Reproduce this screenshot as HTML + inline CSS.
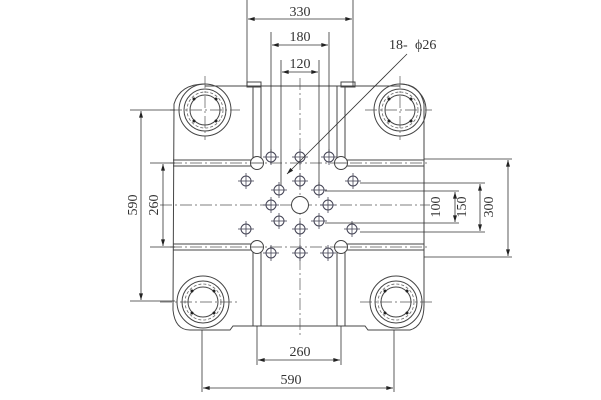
<!DOCTYPE html>
<html><head><meta charset="utf-8"><style>
html,body{margin:0;padding:0;background:#fff;width:601px;height:400px;overflow:hidden}
svg text{font-family:"Liberation Serif",serif;font-size:14px;fill:#333}
</style></head><body>
<svg width="601" height="400" viewBox="0 0 601 400" xmlns="http://www.w3.org/2000/svg">
<defs>
<marker id="a" viewBox="0 0 10 6" refX="10" refY="3" markerWidth="9" markerHeight="5" orient="auto-start-reverse"><path d="M0,0 L10,3 L0,6 z" fill="#222"/></marker>
<g id="boss">
<circle r="26" fill="none" stroke="#444" stroke-width="1"/>
<circle r="21" fill="none" stroke="#444" stroke-width="1"/>
<circle r="18" fill="none" stroke="#666" stroke-width="0.8" stroke-dasharray="3,2"/>
<circle r="15" fill="none" stroke="#444" stroke-width="1"/>
<circle cx="-11" cy="-11" r="1.5" fill="#222"/><circle cx="11" cy="-11" r="1.5" fill="#222"/>
<circle cx="-11" cy="11" r="1.5" fill="#222"/><circle cx="11" cy="11" r="1.5" fill="#222"/>
</g>
<g id="h"><circle r="5" fill="none" stroke="#445" stroke-width="1"/><line x1="-8" y1="0" x2="8" y2="0" stroke="#445" stroke-width="0.8"/><line x1="0" y1="-8" x2="0" y2="8" stroke="#445" stroke-width="0.8"/></g>
<g id="H"><circle r="6.5" fill="#fff" stroke="#444" stroke-width="1"/><line x1="-6" y1="0" x2="6" y2="0" stroke="#444" stroke-width="0.8"/></g>
</defs>
<g stroke="#444" stroke-width="1" fill="none">
<!-- plate outline -->
<path d="M205,84 Q180,84 174,104 L173,310 Q175,330 190,330 L230,330 L233,326 L365,326 L368,330 L410,330 Q424,326 424,305 L424,104 Q420,84 400,84"/>
<line x1="205" y1="86" x2="400" y2="86"/>
<!-- top tabs -->
<rect x="247" y="82" width="14" height="5"/><rect x="341" y="82" width="14" height="5"/>
<!-- vertical slots -->
<line x1="253" y1="86" x2="253" y2="160"/><line x1="261" y1="86" x2="261" y2="158"/>
<line x1="337" y1="86" x2="337" y2="158"/><line x1="345" y1="86" x2="345" y2="160"/>
<line x1="253" y1="250" x2="253" y2="326"/><line x1="261" y1="252" x2="261" y2="326"/>
<line x1="337" y1="252" x2="337" y2="326"/><line x1="345" y1="250" x2="345" y2="326"/>
<!-- horizontal slots -->
<line x1="173" y1="160" x2="252" y2="160"/><line x1="173" y1="166" x2="251" y2="166"/>
<line x1="347" y1="160" x2="424" y2="160"/><line x1="347" y1="166" x2="424" y2="166"/>
<line x1="173" y1="244" x2="251" y2="244"/><line x1="173" y1="250" x2="252" y2="250"/>
<line x1="347" y1="244" x2="424" y2="244"/><line x1="347" y1="250" x2="424" y2="250"/>
</g>
<use href="#boss" x="205" y="110"/><use href="#boss" x="400" y="110"/>
<use href="#boss" x="203" y="302"/><use href="#boss" x="396" y="302"/>
<!-- center lines -->
<g stroke="#555" stroke-width="0.7" stroke-dasharray="12,3,2,3" fill="none">
<line x1="300" y1="78" x2="300" y2="335"/>
<line x1="160" y1="205" x2="430" y2="205"/>
<line x1="170" y1="163" x2="430" y2="163"/><line x1="170" y1="247" x2="430" y2="247"/>
<line x1="205" y1="76" x2="205" y2="140"/><line x1="170" y1="110" x2="240" y2="110"/>
<line x1="400" y1="76" x2="400" y2="140"/><line x1="365" y1="110" x2="432" y2="110"/>
<line x1="160" y1="302" x2="238" y2="302"/><line x1="360" y1="302" x2="432" y2="302"/>
</g>
<circle cx="300" cy="205" r="8.5" fill="#fff" stroke="#444" stroke-width="1"/>
<use href="#H" x="257" y="163"/><use href="#H" x="341" y="163"/><use href="#H" x="257" y="247"/><use href="#H" x="341" y="247"/>
<use href="#h" x="271" y="157"/><use href="#h" x="300" y="157"/><use href="#h" x="329" y="157"/>
<use href="#h" x="246" y="181"/><use href="#h" x="353" y="181"/><use href="#h" x="300" y="181"/>
<use href="#h" x="279" y="190"/><use href="#h" x="319" y="190"/>
<use href="#h" x="271" y="205"/><use href="#h" x="328" y="205"/>
<use href="#h" x="279" y="221"/><use href="#h" x="319" y="221"/><use href="#h" x="300" y="229"/>
<use href="#h" x="246" y="229"/><use href="#h" x="352" y="229"/>
<use href="#h" x="271" y="253"/><use href="#h" x="300" y="253"/><use href="#h" x="328" y="253"/>
<!-- dimension lines -->
<g stroke="#333" stroke-width="0.8" fill="none">
<line x1="247" y1="0" x2="247" y2="86"/><line x1="353" y1="0" x2="353" y2="86"/>
<line x1="248" y1="19" x2="352" y2="19" marker-start="url(#a)" marker-end="url(#a)"/>
<line x1="271" y1="32" x2="271" y2="152"/><line x1="329" y1="32" x2="329" y2="152"/>
<line x1="272" y1="45" x2="328" y2="45" marker-start="url(#a)" marker-end="url(#a)"/>
<line x1="281" y1="60" x2="281" y2="185"/><line x1="319" y1="60" x2="319" y2="185"/>
<line x1="282" y1="72" x2="318" y2="72" marker-start="url(#a)" marker-end="url(#a)"/>
<line x1="407" y1="54" x2="287" y2="174" marker-end="url(#a)"/>
<!-- left -->
<line x1="130" y1="110" x2="175" y2="110"/><line x1="130" y1="301" x2="175" y2="301"/>
<line x1="141" y1="111" x2="141" y2="300" marker-start="url(#a)" marker-end="url(#a)"/>
<line x1="150" y1="163" x2="175" y2="163"/><line x1="150" y1="247" x2="175" y2="247"/>
<line x1="163" y1="164" x2="163" y2="246" marker-start="url(#a)" marker-end="url(#a)"/>
<!-- right -->
<line x1="424" y1="159" x2="512" y2="159"/><line x1="424" y1="257" x2="512" y2="257"/>
<line x1="508" y1="160" x2="508" y2="256" marker-start="url(#a)" marker-end="url(#a)"/>
<line x1="360" y1="183" x2="485" y2="183"/><line x1="360" y1="232" x2="485" y2="232"/>
<line x1="480" y1="184" x2="480" y2="231" marker-start="url(#a)" marker-end="url(#a)"/>
<line x1="325" y1="191" x2="459" y2="191"/><line x1="325" y1="223" x2="459" y2="223"/>
<line x1="455" y1="192" x2="455" y2="222" marker-start="url(#a)" marker-end="url(#a)"/>
<!-- bottom -->
<line x1="257" y1="326" x2="257" y2="365"/><line x1="341" y1="326" x2="341" y2="365"/>
<line x1="258" y1="360" x2="340" y2="360" marker-start="url(#a)" marker-end="url(#a)"/>
<line x1="202" y1="330" x2="202" y2="392"/><line x1="394" y1="330" x2="394" y2="392"/>
<line x1="203" y1="388" x2="393" y2="388" marker-start="url(#a)" marker-end="url(#a)"/>
</g>
<text x="300" y="16" text-anchor="middle">330</text>
<text x="300" y="41" text-anchor="middle">180</text>
<text x="300" y="68" text-anchor="middle">120</text>
<text x="389" y="49">18-</text><text x="415" y="49">ϕ26</text>
<text x="300" y="356" text-anchor="middle">260</text>
<text x="291" y="384" text-anchor="middle">590</text>
<text transform="translate(137,205) rotate(-90)" text-anchor="middle">590</text>
<text transform="translate(158,205) rotate(-90)" text-anchor="middle">260</text>
<text transform="translate(440,207) rotate(-90)" text-anchor="middle">100</text>
<text transform="translate(466,207) rotate(-90)" text-anchor="middle">150</text>
<text transform="translate(493,207) rotate(-90)" text-anchor="middle">300</text>
</svg>
</body></html>
